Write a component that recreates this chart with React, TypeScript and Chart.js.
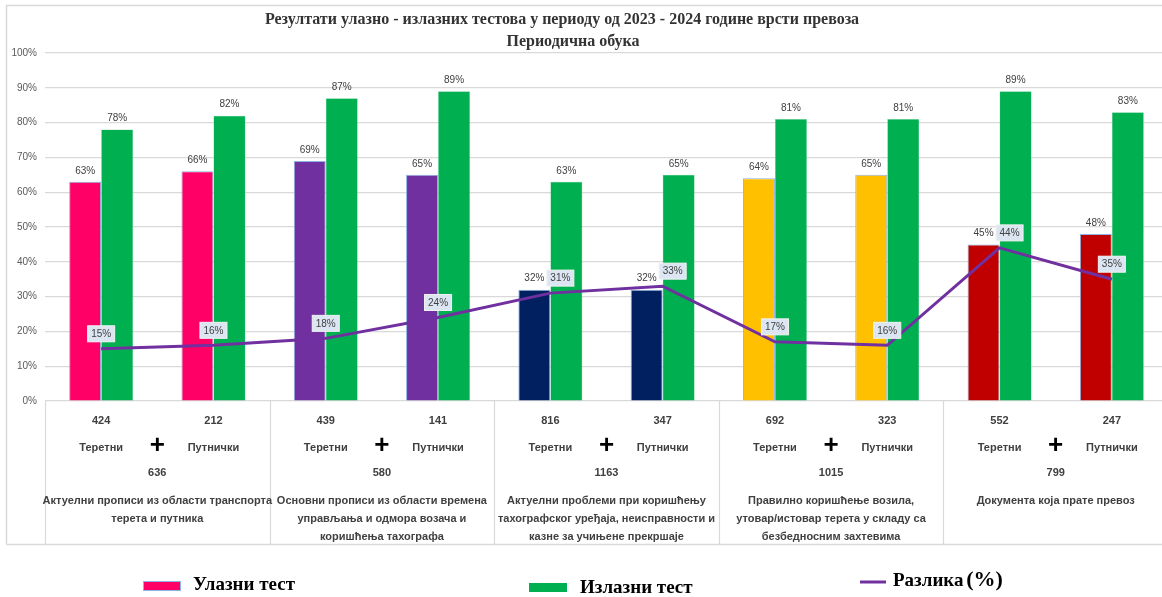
import React, { useEffect, useRef } from "react";
import { Chart, registerables } from "chart.js";

Chart.register(...registerables);

const titleLines = [
  "Резултати улазно - излазних тестова у периоду од 2023 - 2024 године врсти превоза",
  "Периодична обука",
];
const categories = ["424", "212", "439", "141", "816", "347", "692", "323", "552", "247"];
const vehicleTypes = ["Теретни", "Путнички", "Теретни", "Путнички", "Теретни", "Путнички", "Теретни", "Путнички", "Теретни", "Путнички"];
const entryTest = [63, 66, 69, 65, 32, 32, 64, 65, 45, 48];
const exitTest = [78, 82, 87, 89, 63, 65, 81, 81, 89, 83];
const difference = [15, 16, 18, 24, 31, 33, 17, 16, 44, 35];
const groupTotals = ["636", "580", "1163", "1015", "799"];
const groupTopics = [
  ["Актуелни прописи из области транспорта", "терета и путника"],
  ["Основни прописи из области времена", "управљања и одмора возача и", "коришћења тахографа"],
  ["Актуелни проблеми при коришћењу", "тахографског уређаја, неисправности и", "казне за учињене прекршаје"],
  ["Правилно коришћење возила,", "утовар/истовар терета у складу са", "безбедносним захтевима"],
  ["Документа која прате превоз"],
];
const entryColors = ["#FF0066", "#FF0066", "#7030A0", "#7030A0", "#002060", "#002060", "#FFC000", "#FFC000", "#C00000", "#C00000"];
const exitColor = "#00B050";
const lineColor = "#7030A0";
const seriesNames = ["Улазни тест", "Излазни тест", "Разлика", "(%)"];

const SANS = '"Liberation Sans", Arial, sans-serif';
const SERIF = '"Liberation Serif", "Times New Roman", serif';
const FRAME = "#D9D9D9";

const overlay = {
  id: "overlay",
  beforeDraw(chart: any) {
    const ctx = chart.ctx;
    ctx.save();
    ctx.fillStyle = "#fff";
    ctx.fillRect(0, 0, chart.width, chart.height);
    ctx.strokeStyle = FRAME;
    ctx.lineWidth = 1.5;
    ctx.beginPath();
    ctx.moveTo(6.5, 544.5);
    ctx.lineTo(6.5, 5.5);
    ctx.lineTo(chart.width, 5.5);
    ctx.moveTo(6.5, 544.5);
    ctx.lineTo(chart.width, 544.5);
    ctx.stroke();
    // title
    ctx.fillStyle = "#333333";
    ctx.font = `bold 16px ${SERIF}`;
    ctx.textAlign = "center";
    ctx.textBaseline = "middle";
    ctx.fillText(titleLines[0], 562, 20);
    ctx.fillText(titleLines[1], 573, 42);
    ctx.restore();
  },
  afterDraw(chart: any) {
    const ctx = chart.ctx;
    const xs = chart.scales.x;
    const area = chart.chartArea;
    ctx.save();
    // separators in label area
    ctx.strokeStyle = FRAME;
    ctx.lineWidth = 1.2;
    ctx.beginPath();
    const bounds = [area.left];
    for (let k = 1; k < groupTotals.length; k++) {
      bounds.push((xs.getPixelForValue(2 * k - 1) + xs.getPixelForValue(2 * k)) / 2);
    }
    bounds.forEach((b) => {
      ctx.moveTo(Math.round(b) + 0.5, area.bottom);
      ctx.lineTo(Math.round(b) + 0.5, 544);
    });
    ctx.stroke();

    // plus, totals, topics
    ctx.textAlign = "center";
    ctx.textBaseline = "middle";
    groupTotals.forEach((t, k) => {
      const cx = (xs.getPixelForValue(2 * k) + xs.getPixelForValue(2 * k + 1)) / 2;
      ctx.fillStyle = "#000";
      ctx.font = `bold 26px ${SANS}`;
      ctx.fillText("+", cx, 446);
      ctx.fillStyle = "#404040";
      ctx.font = `bold 11px ${SANS}`;
      ctx.fillText(t, cx, 473);
      groupTopics[k].forEach((line, i) => {
        ctx.fillText(line, cx, 501 + i * 18);
      });
    });

    // bar labels
    ctx.font = `10px ${SANS}`;
    ctx.fillStyle = "#404040";
    const labelY: number[] = [];
    [0, 1].forEach((di) => {
      const meta = chart.getDatasetMeta(di);
      const vals = di === 0 ? entryTest : exitTest;
      meta.data.forEach((bar: any, j: number) => {
        ctx.fillText(vals[j] + "%", bar.x, bar.y - 11);
        if (di === 0) labelY[j] = bar.y - 11;
      });
    });

    // line labels
    const lmeta = chart.getDatasetMeta(2);
    ctx.font = `10px ${SANS}`;
    lmeta.data.forEach((pt: any, j: number) => {
      const txt = difference[j] + "%";
      const w = ctx.measureText(txt).width + 7;
      const h = 16;
      let cx = pt.x;
      let cy = pt.y - 15;
      if (Math.abs(cy - labelY[j]) < 14) {
        cx += 10;
        cy = Math.min(cy, labelY[j] + 2);
      }
      ctx.fillStyle = "#DCE6F2";
      ctx.fillRect(cx - w / 2, cy - h / 2, w, h);
      ctx.strokeStyle = "#F2F2F2";
      ctx.lineWidth = 1;
      ctx.strokeRect(cx - w / 2, cy - h / 2, w, h);
      ctx.fillStyle = "#404040";
      ctx.fillText(txt, cx, cy + 0.5);
    });

    // legend
    ctx.textAlign = "left";
    ctx.textBaseline = "middle";
    ctx.fillStyle = entryColors[0];
    ctx.fillRect(143, 581, 37, 9);
    ctx.strokeStyle = "#8DB4E2";
    ctx.lineWidth = 1;
    ctx.strokeRect(143.5, 581.5, 37, 9);
    ctx.fillStyle = exitColor;
    ctx.fillRect(529, 583, 38, 9);
    ctx.strokeStyle = lineColor;
    ctx.lineWidth = 3;
    ctx.beginPath();
    ctx.moveTo(860, 582);
    ctx.lineTo(886, 582);
    ctx.stroke();
    ctx.fillStyle = "#000";
    ctx.font = `bold 19px ${SERIF}`;
    ctx.fillText(seriesNames[0], 193, 585);
    ctx.fillText(seriesNames[1], 580, 588);
    ctx.fillText(seriesNames[2], 893, 581);
    const rw = ctx.measureText(seriesNames[2] + " ").width;
    ctx.font = `bold 22px ${SERIF}`;
    ctx.fillText(seriesNames[3], 893 + rw - 2, 580);
    ctx.restore();
  },
};

export default function App() {
  const ref = useRef<HTMLCanvasElement | null>(null);
  useEffect(() => {
    document.body.style.margin = "0";
    const chart = new Chart(ref.current as HTMLCanvasElement, {
      type: "bar",
      data: {
        labels: categories,
        datasets: [
          {
            type: "bar",
            label: seriesNames[0],
            data: entryTest,
            backgroundColor: entryColors,
            borderColor: "#8DB4E2",
            borderWidth: 1,
            order: 1,
          },
          {
            type: "bar",
            label: seriesNames[1],
            data: exitTest,
            backgroundColor: exitColor,
            borderColor: "#7FD8A8",
            borderWidth: 0.5,
            order: 1,
          },
          {
            type: "line",
            label: seriesNames[2] + " " + seriesNames[3],
            data: difference,
            borderColor: lineColor,
            borderWidth: 3,
            pointRadius: 0,
            tension: 0,
            order: 0,
          } as any,
        ],
      },
      options: {
        animation: false,
        responsive: false,
        events: [],
        layout: { padding: { top: 53, right: 4, bottom: 0, left: 0 } },
        plugins: { legend: { display: false }, title: { display: false }, tooltip: { enabled: false } },
        datasets: { bar: { categoryPercentage: 0.57, barPercentage: 1 } },
        scales: {
          x: {
            afterFit: (s: any) => {
              s.height = 196;
            },
            grid: { display: false, drawTicks: false },
            border: { display: false },
            ticks: {
              autoSkip: false,
              maxRotation: 0,
              padding: 6,
              color: "#404040",
              font: { family: SANS, size: 11, weight: "bold", lineHeight: "27px" } as any,
              callback: (_v: any, i: number) => [categories[i], vehicleTypes[i]],
            },
          },
          y: {
            min: 0,
            max: 100,
            afterFit: (s: any) => {
              s.width = 45;
            },
            grid: { color: "#D9D9D9", lineWidth: 1.2, drawTicks: false },
            border: { display: false },
            ticks: {
              stepSize: 10,
              padding: 8,
              color: "#595959",
              font: { family: SANS, size: 10 },
              callback: (v: any) => v + "%",
            },
          },
        },
      },
      plugins: [overlay],
    } as any);
    return () => chart.destroy();
  }, []);
  return (
    <div style={{ width: 1162, height: 597, overflow: "hidden", position: "relative" }}>
      <canvas ref={ref} width={1172} height={597} style={{ display: "block", width: 1172, height: 597 }} />
    </div>
  );
}
